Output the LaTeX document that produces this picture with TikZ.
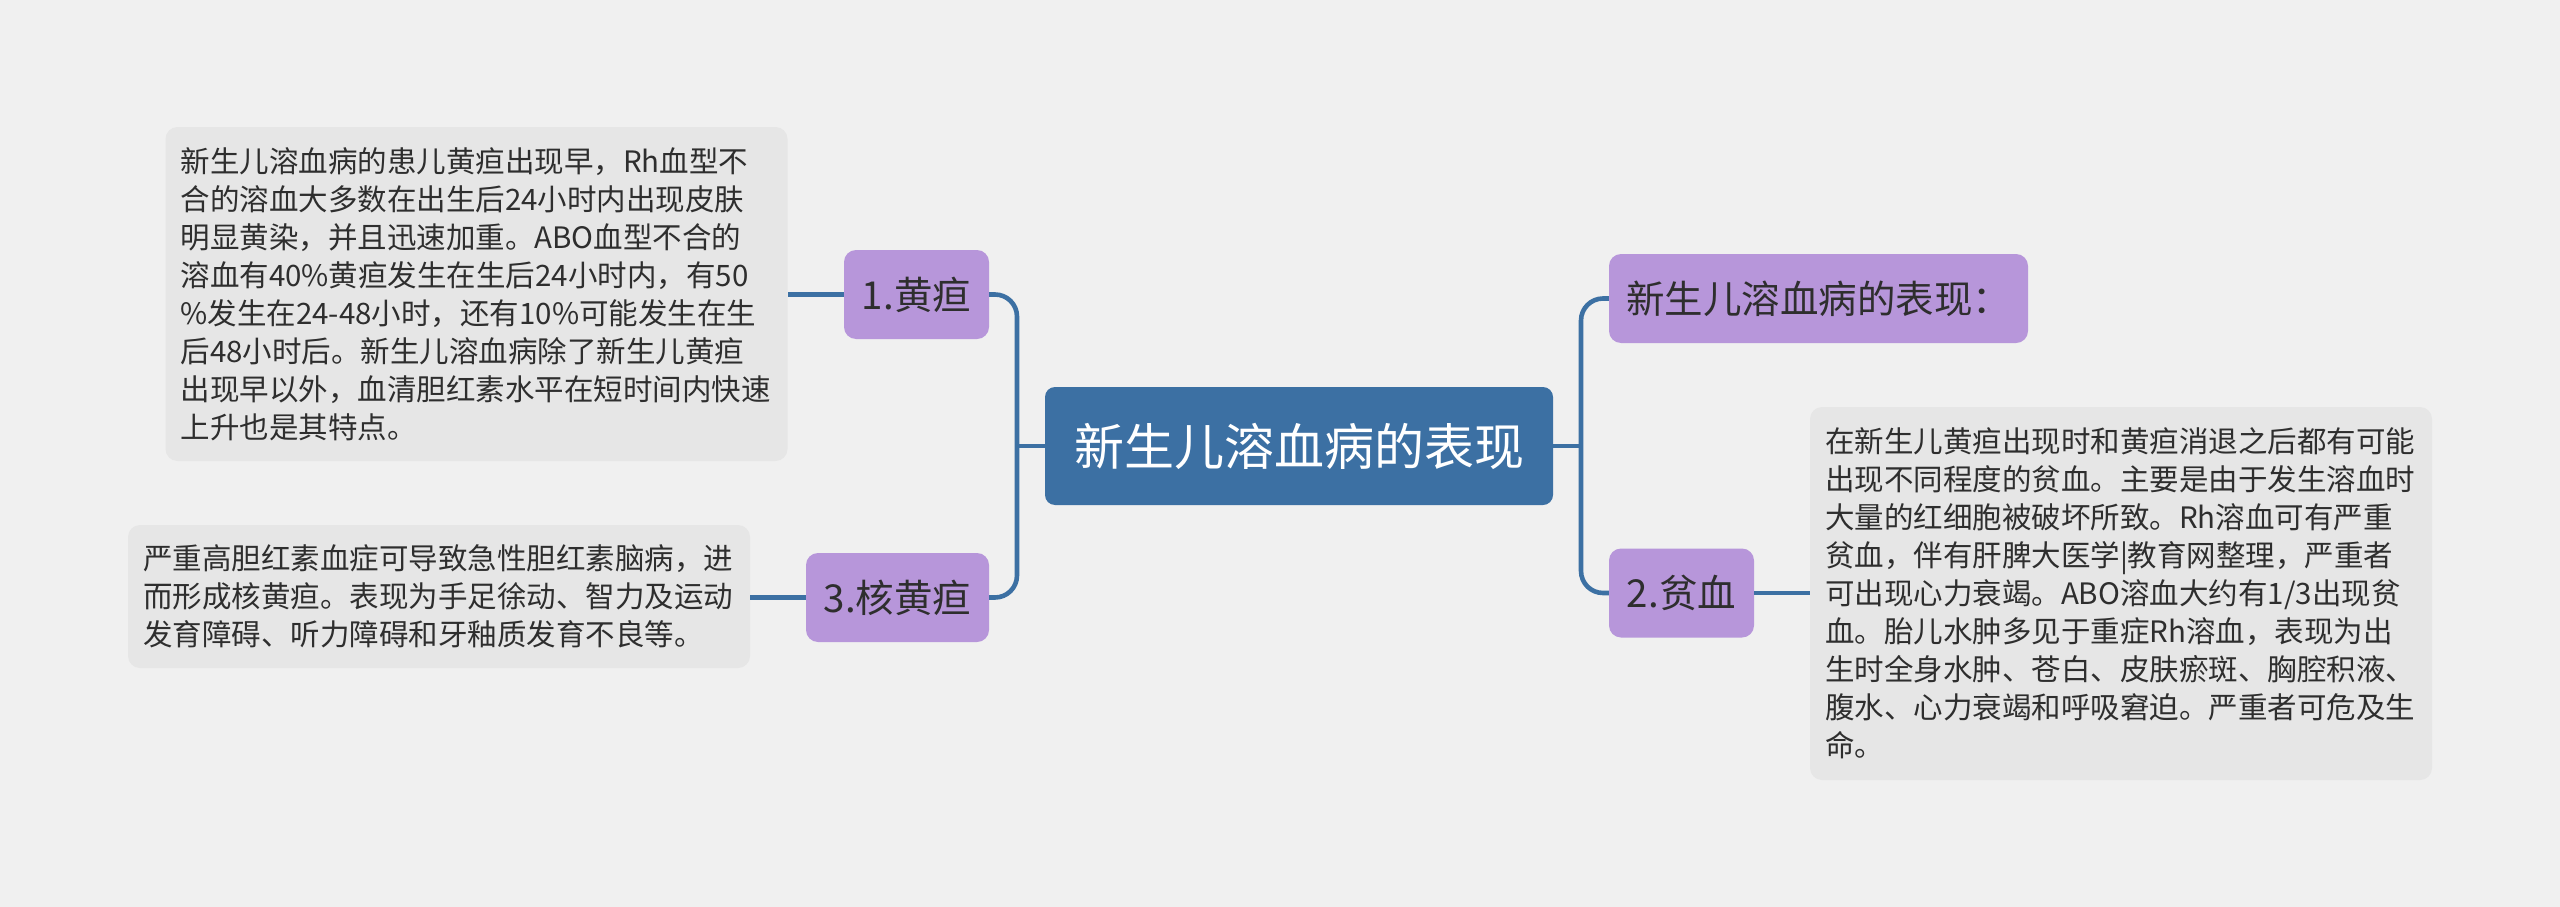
\documentclass[tikz,border=0pt]{standalone}
\usepackage{fontspec}
\setmainfont{Noto Sans CJK SC}
\usepackage{tikz}
\usetikzlibrary{positioning}
\usepackage{xcolor}
\definecolor{pagebg}{HTML}{F0F0F0}
\definecolor{topicblue}{HTML}{3C70A3}
\definecolor{subpurple}{HTML}{B796DA}
\definecolor{notegrey}{HTML}{E6E6E6}
\definecolor{inkdark}{HTML}{2E2E2E}

\begin{document}
\begin{tikzpicture}[x=1pt, y=-1pt,
    topic/.style={rectangle, rounded corners=10pt, fill=topicblue, text=white, minimum width=508pt, minimum height=118pt, font=\fontsize{50}{60}\selectfont},
    sub/.style={rectangle, rounded corners=12pt, fill=subpurple, text=inkdark, minimum height=89pt, font=\fontsize{38.5}{46}\selectfont},
    note/.style={rectangle, rounded corners=12pt, fill=notegrey, text=inkdark, align=left, text width=592pt, inner xsep=15pt, font=\fontsize{29.5}{38}\selectfont},
    link/.style={draw=topicblue, line width=4.6pt, rounded corners=22pt}]

    \fill[pagebg] (0,0) rectangle (2560,907);
    \useasboundingbox (0,0) rectangle (2560,907);

    \node[topic] (main) at (1299,446) {新生儿溶血病的表现};

    \node[sub, minimum width=145pt] (jaundice) at (916.5,294.5) {1.黄疸};
    \node[sub, minimum width=183pt] (kernic) at (897.5,597.5) {3.核黄疸};
    \node[sub, minimum width=419pt] (signs) at (1818.5,298.5) {新生儿溶血病的表现：};
    \node[sub, minimum width=145pt] (anemia) at (1681.5,593) {2.贫血};

    \node[note, minimum height=334pt] (jnote) at (476.5,294) {新生儿溶血病的患儿黄疸出现早，Rh血型不\\合的溶血大多数在出生后24小时内出现皮肤\\明显黄染，并且迅速加重。ABO血型不合的\\溶血有40\%黄疸发生在生后24小时内，有50\\\%发生在24-48小时，还有10\%可能发生在生\\后48小时后。新生儿溶血病除了新生儿黄疸\\出现早以外，血清胆红素水平在短时间内快速\\上升也是其特点。};
    \node[note, minimum height=143pt] (knote) at (439,596.5) {严重高胆红素血症可导致急性胆红素脑病，进\\而形成核黄疸。表现为手足徐动、智力及运动\\发育障碍、听力障碍和牙釉质发育不良等。};
    \node[note, minimum height=373pt] (anote) at (2121,593.5) {在新生儿黄疸出现时和黄疸消退之后都有可能\\出现不同程度的贫血。主要是由于发生溶血时\\大量的红细胞被破坏所致。Rh溶血可有严重\\贫血，伴有肝脾大医学|教育网整理，严重者\\可出现心力衰竭。ABO溶血大约有1/3出现贫\\血。胎儿水肿多见于重症Rh溶血，表现为出\\生时全身水肿、苍白、皮肤瘀斑、胸腔积液、\\腹水、心力衰竭和呼吸窘迫。严重者可危及生\\命。};

    % trunks
    \coordinate (ljoin) at (1017,446);
    \coordinate (rjoin) at (1581,446);
    \draw[link] (main.west) -- (ljoin);
    \draw[link] (jaundice.east) -| (ljoin) |- (kernic.east);
    \draw[link] (main.east) -- (rjoin);
    \draw[link] (signs.west) -| (rjoin) |- (anemia.west);

    % notes
    \draw[link] (jaundice.west) -- (jaundice.west -| jnote.east);
    \draw[link] (kernic.west) -- (kernic.west -| knote.east);
    \draw[link] (anemia.east) -- (anemia.east -| anote.west);
\end{tikzpicture}
\end{document}
